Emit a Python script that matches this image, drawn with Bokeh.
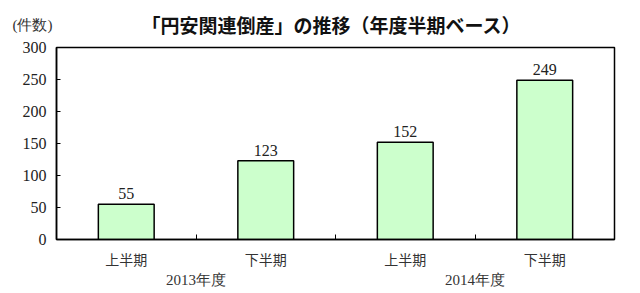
from bokeh.plotting import figure
from bokeh.layouts import column
from bokeh.models import (ColumnDataSource, Range1d, FixedTicker, LinearAxis,
                          LabelSet, Label)
from bokeh.embed import file_html
from bokeh.resources import INLINE

# ---- data ----
halves = ["上半期", "下半期", "上半期", "下半期"]
years = ["2013年度", "2014年度"]
counts = [55, 123, 152, 249]
y_ticks = [0, 50, 100, 150, 200, 250, 300]
title_text = "「円安関連倒産」の推移（年度半期ベース）"
unit_text = "(件数)"

xpos = [i + 0.5 for i in range(len(counts))]
src = ColumnDataSource(dict(x=xpos, top=counts, label=[str(c) for c in counts]))

# ---- header strip (title + unit) ----
HEAD_H = 38
TEXT_Y = HEAD_H - 24
head = figure(width=640, height=HEAD_H, output_backend="svg", toolbar_location=None,
              x_range=Range1d(56, 614), y_range=Range1d(0, HEAD_H),
              min_border_left=56, min_border_right=26, min_border_top=0,
              min_border_bottom=0, x_axis_location=None)
head.xgrid.visible = False
head.ygrid.visible = False
head.outline_line_color = None
head.background_fill_color = "white"
head.border_fill_color = "white"
hy = head.yaxis[0]
hy.ticker = FixedTicker(ticks=[TEXT_Y], minor_ticks=[])
hy.major_label_overrides = {TEXT_Y: unit_text}
hy.axis_line_color = None
hy.major_tick_line_color = None
hy.major_tick_in = 0
hy.major_tick_out = 0
hy.minor_tick_line_color = None
hy.major_label_standoff = 4
hy.major_label_text_font = "Liberation Serif"
hy.major_label_text_font_size = "15px"
hy.major_label_text_color = "#333333"
head.add_layout(Label(x=331, y=TEXT_Y, text=title_text, text_align="center",
                      text_baseline="middle", text_font="Noto Sans CJK JP",
                      text_font_style="bold", text_font_size="19px",
                      text_color="#111111"))

# ---- main chart ----
p = figure(width=640, height=293 - HEAD_H, output_backend="svg", toolbar_location=None,
           x_range=Range1d(0, 4), y_range=Range1d(0, 300),
           min_border_left=56, min_border_right=26, min_border_top=47 - HEAD_H,
           min_border_bottom=54, x_axis_location=None)
p.xgrid.visible = False
p.ygrid.visible = False
p.outline_line_color = "black"
p.outline_line_width = 1.5
p.background_fill_color = "white"
p.border_fill_color = "white"

p.vbar(x="x", top="top", width=0.4, bottom=0, source=src,
       fill_color="#ccffcc", line_color="black", line_width=1.5)

# y axis
ya = p.yaxis[0]
ya.ticker = FixedTicker(ticks=y_ticks)
ya.major_tick_in = 4
ya.major_tick_out = 0
ya.minor_tick_line_color = None
ya.axis_line_width = 1.5
ya.major_label_text_font = "Liberation Serif"
ya.major_label_text_font_size = "16px"
ya.major_label_text_color = "#222222"
ya.major_label_standoff = 10

# x axis: halves
xa = LinearAxis(ticker=FixedTicker(ticks=xpos, minor_ticks=[1, 2, 3]))
xa.major_label_overrides = {xpos[i]: halves[i] for i in range(len(xpos))}
xa.major_tick_line_color = None
xa.major_tick_out = 0
xa.major_tick_in = 0
xa.minor_tick_in = 5
xa.minor_tick_out = 0
xa.minor_tick_line_width = 1
xa.axis_line_width = 1.5
xa.major_label_text_font = "Noto Sans CJK JP"
xa.major_label_text_font_size = "14px"
xa.major_label_text_color = "#333333"
xa.major_label_standoff = 9
p.add_layout(xa, "below")

# x axis: years
xa2 = LinearAxis(ticker=FixedTicker(ticks=[1, 3], minor_ticks=[]))
xa2.major_label_overrides = {1: years[0], 3: years[1]}
xa2.axis_line_color = None
xa2.major_tick_line_color = None
xa2.major_tick_out = 0
xa2.major_tick_in = 0
xa2.minor_tick_line_color = None
xa2.major_label_text_font = "Liberation Serif"
xa2.major_label_text_font_size = "15px"
xa2.major_label_text_color = "#333333"
xa2.major_label_standoff = 0
p.add_layout(xa2, "below")

# value labels
p.add_layout(LabelSet(x="x", y="top", text="label", source=src, y_offset=5,
                      text_align="center", text_baseline="bottom",
                      text_font="Liberation Serif", text_font_size="16px",
                      text_color="#222222"))

layout = column(head, p, spacing=0)
open("out.html", "w").write(file_html(layout, INLINE))
